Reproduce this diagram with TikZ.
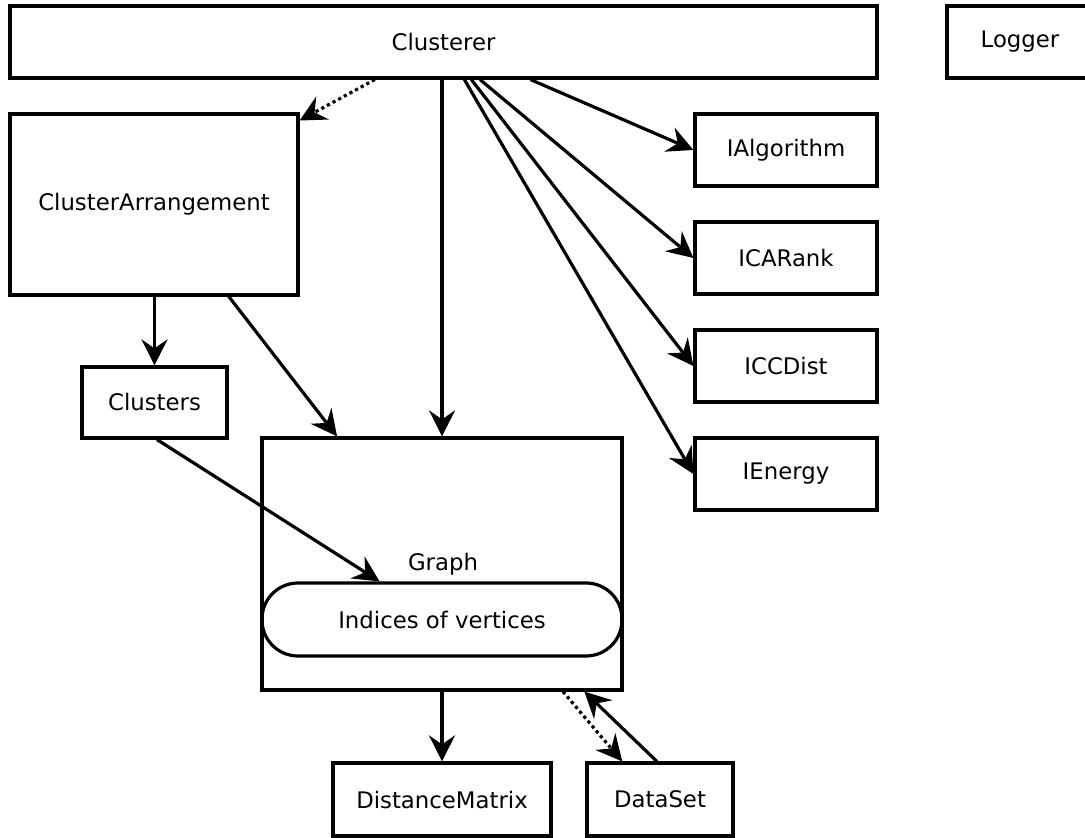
\documentclass[tikz,border=0pt]{standalone}
\usepackage{fontspec}
\setmainfont{DejaVu Sans}
\usetikzlibrary{arrows.meta,calc}

\begin{document}
\begin{tikzpicture}[x=0.5pt,y=-0.5pt]
			\tikzset{classbox/.style={draw,line width=1.6pt,inner sep=0pt,align=center,
				font=\fontsize{11.4}{13.7}\selectfont}}
			\tikzset{uses/.style={line width=1.6pt,-{Stealth[length=13pt,width=13pt,inset=4.5pt]}}}
			\tikzset{creates/.style={uses,dash pattern=on 1.6pt off 1.6pt}}
			\useasboundingbox (0,0) rectangle (1085,838);
			\clip (0,0) rectangle (1085,838);
			% top row
			\node[classbox,minimum width=433.5pt,minimum height=36pt] (clusterer) at (443.5,42) {Clusterer};
			\node[classbox,minimum width=73pt,minimum height=36pt] (logger) at (1020,42) {Logger};
			% left column
			\node[classbox,minimum width=144pt,minimum height=90.5pt] (carr) at (154,204.5) {ClusterArrangement};
			\node[classbox,minimum width=72.5pt,minimum height=35.5pt] (clusters) at (154.5,402.5) {Clusters};
			% interfaces
			\node[classbox,minimum width=91pt,minimum height=36pt] (ialg) at (786,150) {IAlgorithm};
			\node[classbox,minimum width=91pt,minimum height=36pt] (icarank) at (786,258) {ICARank};
			\node[classbox,minimum width=91pt,minimum height=36pt] (iccdist) at (786,366) {ICCDist};
			\node[classbox,minimum width=91pt,minimum height=36pt] (ienergy) at (786,474) {IEnergy};
			% graph
			\node[classbox,minimum width=180pt,minimum height=126pt] (graph) at (442,564) {};
			\node[classbox,draw=none] (graphlbl) at (443,564) {Graph};
			\node[classbox,minimum width=180pt,minimum height=36.5pt,rounded corners=18pt] (indices) at (442,619.5) {Indices of vertices};
			% bottom row
			\node[classbox,minimum width=109pt,minimum height=36.5pt] (distmat) at (442,799.5) {DistanceMatrix};
			\node[classbox,minimum width=73pt,minimum height=36.5pt] (dataset) at (660,799.5) {DataSet};
			% connectors
			\draw[creates] ($(clusterer.south west)!0.421!(clusterer.south east)$) -- ($(carr.north east)!0.044!(carr.south east)$);
			\draw[uses] (clusterer.south -| graph.north) -- (graph.north);
			\draw[uses] ($(clusterer.south west)!0.524!(clusterer.south east)$) -- (ienergy.west);
			\draw[uses] ($(clusterer.south west)!0.532!(clusterer.south east)$) -- (iccdist.west);
			\draw[uses] ($(clusterer.south west)!0.542!(clusterer.south east)$) -- (icarank.west);
			\draw[uses] ($(clusterer.south west)!0.600!(clusterer.south east)$) -- (ialg.west);
			\draw[uses] (carr.south -| clusters.north) -- (clusters.north);
			\draw[uses] ($(carr.south west)!0.757!(carr.south east)$) -- ($(graph.north west)!0.211!(graph.north east)$);
			\draw[uses] ($(clusters.south west)!0.517!(clusters.south east)$) -- ($(indices.north west)!0.328!(indices.north east)$);
			\draw[uses] (graph.south -| distmat.north) -- (distmat.north);
			\draw[creates] ($(graph.south west)!0.833!(graph.south east)$) -- ($(dataset.north west)!0.247!(dataset.north east)$);
			\draw[uses] ($(dataset.north west)!0.479!(dataset.north east)$) -- ($(graph.south west)!0.892!(graph.south east)$);
		\end{tikzpicture}
\end{document}
